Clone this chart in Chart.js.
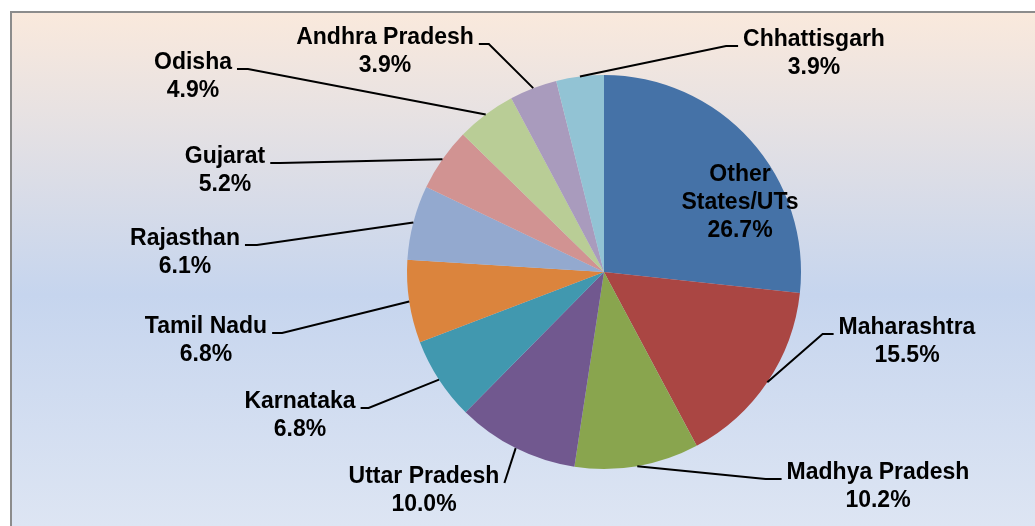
<!DOCTYPE html>
<html>
<head>
<meta charset="utf-8">
<script src="https://cdn.jsdelivr.net/npm/chart.js@4/dist/chart.umd.min.js"></script>
<style>
  html, body { margin: 0; padding: 0; background: #fff; }
  canvas { display: block; }
</style>
</head>
<body>
<canvas id="pieChart" width="1035" height="526"></canvas>
<script>
// Datos del gráfico
const categories = [
  'Other States/UTs', 'Maharashtra', 'Madhya Pradesh', 'Uttar Pradesh',
  'Karnataka', 'Tamil Nadu', 'Rajasthan', 'Gujarat', 'Odisha',
  'Andhra Pradesh', 'Chhattisgarh'
];
const shares = [26.7, 15.5, 10.2, 10.0, 6.8, 6.8, 6.1, 5.2, 4.9, 3.9, 3.9];
const sliceColors = [
  '#4572a7', '#aa4643', '#89a54e', '#71588f', '#4198af', '#db843d',
  '#93a9cf', '#d19392', '#b9cd96', '#a99bbd', '#92c3d4'
];

// Posición de cada etiqueta respecto al centro del pastel (px)
const labelLayout = [
  { dx: 136, dy: -97, inside: true },
  { dx: 303, dy: 56, tail: 11 },
  { dx: 274, dy: 201, tail: 16 },
  { dx: -180, dy: 205, tail: 0 },
  { dx: -304, dy: 130, tail: 8 },
  { dx: -398, dy: 55, tail: 10 },
  { dx: -419, dy: -33, tail: 12 },
  { dx: -379, dy: -115, tail: 10 },
  { dx: -411, dy: -209, tail: 11 },
  { dx: -219, dy: -234, tail: 10 },
  { dx: 210, dy: -232, tail: 12 }
];

const FONT = 'bold 23px "Liberation Sans", Arial, sans-serif';
const LINE_H = 28;

// Fondo con degradado y marco gris
const backgroundPlugin = {
  id: 'frameBackground',
  beforeDraw(chart) {
    const { ctx, width, height } = chart;
    ctx.save();
    ctx.fillStyle = '#ffffff';
    ctx.fillRect(0, 0, width, height);
    const grad = ctx.createLinearGradient(0, 12, 0, height);
    grad.addColorStop(0, '#fae9dc');
    grad.addColorStop(0.55, '#c6d5ee');
    grad.addColorStop(1, '#dde5f3');
    ctx.fillStyle = grad;
    ctx.fillRect(11, 12, width, height);
    ctx.strokeStyle = '#8c8c8c';
    ctx.lineWidth = 2;
    ctx.beginPath();
    ctx.moveTo(11, height + 2);
    ctx.lineTo(11, 12);
    ctx.lineTo(width + 2, 12);
    ctx.stroke();
    ctx.restore();
  }
};

// Etiquetas con líneas guía
const labelPlugin = {
  id: 'pieLabels',
  afterDatasetsDraw(chart) {
    const ctx = chart.ctx;
    const meta = chart.getDatasetMeta(0);
    ctx.save();
    ctx.font = FONT;
    ctx.fillStyle = '#000';
    ctx.strokeStyle = '#000';
    ctx.lineWidth = 2;
    ctx.textAlign = 'center';
    ctx.textBaseline = 'middle';

    meta.data.forEach((arc, i) => {
      const p = arc.getProps(['x', 'y', 'startAngle', 'endAngle', 'outerRadius'], true);
      const lay = labelLayout[i];
      const pct = shares[i].toFixed(1) + '%';
      const lines = lay.inside ? [...categories[i].split(' '), pct] : [categories[i], pct];
      const cx = p.x + lay.dx;
      const ty = p.y + lay.dy;
      lines.forEach((t, k) => ctx.fillText(t, cx, ty + k * LINE_H));

      if (!lay.inside) {
        const mid = (p.startAngle + p.endAngle) / 2;
        const ax = p.x + Math.cos(mid) * p.outerRadius;
        const ay = p.y + Math.sin(mid) * p.outerRadius;
        const w = ctx.measureText(categories[i]).width;
        const dir = lay.dx < 0 ? 1 : -1;
        const ex = cx + dir * (w / 2 + 5);
        const ey = ty + 6;
        ctx.beginPath();
        ctx.moveTo(ax, ay);
        ctx.lineTo(ex + dir * lay.tail, ey);
        ctx.lineTo(ex, ey);
        ctx.stroke();
      }
    });
    ctx.restore();
  }
};

new Chart(document.getElementById('pieChart'), {
  type: 'pie',
  data: {
    labels: categories,
    datasets: [{
      data: shares,
      backgroundColor: sliceColors,
      borderWidth: 0
    }]
  },
  options: {
    responsive: false,
    animation: false,
    layout: { padding: { left: 407, right: 234, top: 75, bottom: 57 } },
    plugins: {
      legend: { display: false },
      tooltip: { enabled: false }
    }
  },
  plugins: [backgroundPlugin, labelPlugin]
});
</script>
</body>
</html>
